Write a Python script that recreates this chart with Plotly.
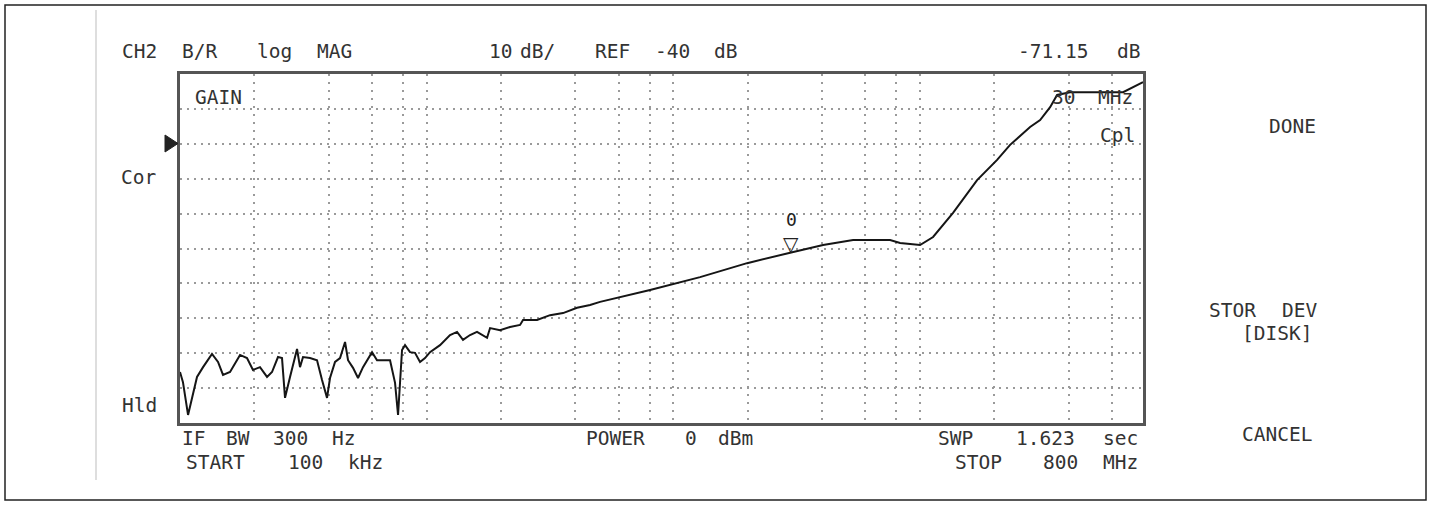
import math
import plotly.graph_objects as go

# ---- data (frequency in MHz, gain in dB) ----
freq_mhz = [0.1, 0.1028, 0.1078, 0.1119, 0.1172, 0.1240, 0.1348, 0.1426, 0.1494, 0.1595,
            0.1751, 0.1869, 0.1976, 0.2110, 0.2253, 0.2360, 0.2496, 0.2591, 0.2665, 0.2792,
            0.2981, 0.3065, 0.3152, 0.3365, 0.3592, 0.3764, 0.3944, 0.4055, 0.4250, 0.4453,
            0.4666, 0.4798, 0.5027, 0.5267, 0.5518, 0.6002, 0.6289, 0.6651, 0.7101, 0.7440,
            0.7651, 0.7942, 0.8166, 0.8556, 0.8964, 0.9394, 0.9842, 1.031, 1.132, 1.243,
            1.327, 1.403, 1.498, 1.599, 1.756, 1.806, 1.982, 2.176, 2.389, 2.457,
            2.800, 3.161, 3.569, 4.067, 4.591, 5.041, 8.038, 12.82, 19.88, 30.0,
            40.41, 53.46, 75.51, 82.90, 99.9, 112.8, 135.9, 170.1, 205.0, 231.4,
            278.9, 306.3, 336.2, 358.9, 405.2, 535.9, 664.4, 800.0]
gain_db = [-105.4, -108.3, -117.7, -112.6, -106.8, -104.0, -100.2, -102.5, -106.2, -105.4,
           -100.5, -101.4, -104.8, -104.0, -106.8, -105.4, -101.1, -101.4, -112.8, -106.8,
           -98.8, -104.0, -101.1, -101.4, -102.0, -107.7, -112.8, -107.1, -102.5, -101.4,
           -96.8, -102.0, -104.2, -107.1, -104.0, -99.7, -102.0, -102.0, -102.0, -108.5,
           -117.7, -99.1, -97.7, -99.7, -99.9, -102.5, -101.4, -99.7, -97.7, -94.8,
           -93.9, -96.2, -94.8, -93.9, -95.6, -92.8, -93.4, -92.5, -91.9, -90.5,
           -90.5, -89.1, -88.5, -87.0, -86.2, -85.3, -81.9, -78.2, -74.2, -71.15,
           -69.0, -67.6, -67.6, -68.4, -69.0, -66.7, -59.8, -50.4, -44.6, -40.3,
           -35.2, -33.2, -29.5, -26.0, -25.2, -25.2, -25.2, -22.3]

grid_freqs_mhz = [0.2, 0.4, 0.6, 0.8, 1, 2, 4, 6, 8, 10, 20, 40, 60, 80, 100, 200, 400, 600]
start_mhz = 0.1
stop_mhz = 800
ref_level_db = -40
scale_db_per_div = 10
ref_div_from_top = 2
n_div = 10
marker_freq_mhz = 30
marker_gain_db = -71.15

top_db = ref_level_db + ref_div_from_top * scale_db_per_div
bottom_db = top_db - n_div * scale_db_per_div

# ---- layout geometry (pixels) ----
W, H = 1431, 506
L, R, T, B = 180, 1143, 74, 423
PITCH = 15  # character cell width of the instrument font


def px(x):
    return (x - L) / (R - L)


def py(y):
    return (B - y) / (B - T)


FONT = "DejaVu Sans Mono"
TXT = "#333333"
FS = 19.5


def word(s, cell_x, y, size=FS):
    # centre each word on its character cells
    cx = cell_x + len(s) * PITCH / 2
    return dict(text=s, x=px(cx), y=py(y), xref="paper", yref="paper",
                xanchor="center", yanchor="middle", showarrow=False, borderpad=0,
                font=dict(family=FONT, size=size, color=TXT))


labels = [
    # (text, left cell x, y centre)
    ("CH2", 117, 52), ("B/R", 177, 52), ("log", 252, 52), ("MAG", 312, 52),
    ("10", 485, 52), ("dB/", 515, 52), ("REF", 590, 52), ("-40", 650, 52), ("dB", 710, 52),
    ("-71.15", 1008, 52), ("dB", 1113, 52),
    ("GAIN", 188, 97),
    ("30", 1048, 97), ("MHz", 1093, 97),
    ("Cpl", 1095, 135),
    ("Cor", 116, 177),
    ("Hld", 117, 405),
    ("IF", 178, 439), ("BW", 223, 439), ("300", 268, 439), ("Hz", 328, 439),
    ("START", 178, 462), ("100", 283, 462), ("kHz", 343, 462),
    ("POWER", 578, 439), ("0", 683, 439), ("dBm", 713, 439),
    ("SWP", 933, 439), ("1.623", 1008, 439), ("sec", 1098, 439),
    ("STOP", 948, 462), ("800", 1038, 462), ("MHz", 1098, 462),
    ("DONE", 1262, 126),
    ("STOR", 1202, 310), ("DEV", 1277, 310),
    ("[DISK]", 1232, 333),
    ("CANCEL", 1232, 434),
]

annotations = [word(s, x, y) for s, x, y in labels]
annotations += [
    dict(text="\u25bd", x=math.log10(marker_freq_mhz), y=marker_gain_db, xref="x", yref="y",
         xanchor="center", yanchor="bottom", showarrow=False, yshift=-4, borderpad=0,
         font=dict(family="DejaVu Sans", size=20, color="#222")),
    dict(text="0", x=math.log10(marker_freq_mhz), y=marker_gain_db, xref="x", yref="y",
         xanchor="center", yanchor="middle", showarrow=False, yshift=33, borderpad=0,
         font=dict(family=FONT, size=18, color="#222")),
]

shapes = [
    # outer frame
    dict(type="rect", xref="paper", yref="paper", x0=px(5), x1=px(1426), y0=py(500), y1=py(5),
         line=dict(color="#222", width=1.5), layer="below"),
    # left separator line
    dict(type="line", xref="paper", yref="paper", x0=px(96), x1=px(96), y0=py(480), y1=py(10),
         line=dict(color="#c8c8c8", width=1.2)),
    # reference position pointer
    dict(type="path", xref="paper", yref="paper",
         path=f"M {px(165)},{py(135)} L {px(178)},{py(143.5)} L {px(165)},{py(152)} Z",
         fillcolor="#222", line=dict(color="#222", width=1)),
]

fig = go.Figure()
fig.add_trace(go.Scatter(x=freq_mhz, y=gain_db, mode="lines",
                         line=dict(color="#151515", width=2), hoverinfo="skip",
                         showlegend=False))

fig.update_layout(
    width=W, height=H,
    margin=dict(l=L, r=W - R, t=T, b=H - B, pad=0),
    paper_bgcolor="white", plot_bgcolor="white",
    showlegend=False,
    annotations=annotations,
    shapes=shapes,
    xaxis=dict(type="log", range=[math.log10(start_mhz), math.log10(stop_mhz)],
               tickmode="array", tickvals=grid_freqs_mhz, showticklabels=False, ticks="",
               showgrid=True, gridcolor="#9a9a9a", gridwidth=1.5, griddash="2px,6px",
               showline=True, mirror=True, linecolor="#555", linewidth=2.5, zeroline=False,
               fixedrange=True),
    yaxis=dict(range=[bottom_db, top_db], tickmode="linear", tick0=top_db, dtick=scale_db_per_div,
               showticklabels=False, ticks="",
               showgrid=True, gridcolor="#9a9a9a", gridwidth=1.5, griddash="2px,5px",
               showline=True, mirror=True, linecolor="#555", linewidth=2.5, zeroline=False,
               fixedrange=True),
)

fig.write_html("out.html", config={"displayModeBar": False},
               post_script="document.body.style.margin='0';document.body.style.overflow='hidden';")
